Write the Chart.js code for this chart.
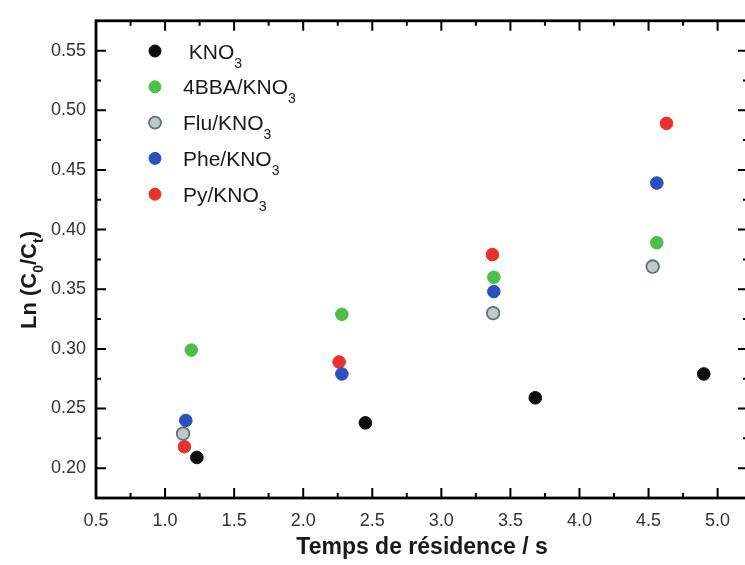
<!DOCTYPE html>
<html>
<head>
<meta charset="utf-8">
<script src="https://cdn.jsdelivr.net/npm/chart.js@4.4.1/dist/chart.umd.min.js"></script>
<style>
  html, body { margin: 0; padding: 0; background: #fff; overflow: hidden; }
  #wrap { width: 760px; height: 565px; }
</style>
</head>
<body>
<div id="wrap"><canvas id="chart" width="760" height="565"></canvas></div>
<script>
// values (x = residence time in s, y = Ln(C0/Ct))
const kno3_x = [1.23, 2.45, 3.68, 4.90];
const kno3_y = [0.209, 0.238, 0.259, 0.279];
const bba_x = [1.19, 2.28, 3.38, 4.56];
const bba_y = [0.299, 0.329, 0.360, 0.389];
const flu_x = [1.13, 3.375, 4.53];
const flu_y = [0.229, 0.330, 0.369];
const phe_x = [1.15, 2.28, 3.38, 4.56];
const phe_y = [0.240, 0.279, 0.348, 0.439];
const py_x = [1.14, 2.26, 3.37, 4.63];
const py_y = [0.218, 0.289, 0.379, 0.489];

// legend names (the "3" is drawn as subscript)
const series_names = [" KNO", "4BBA/KNO", "Flu/KNO", "Phe/KNO", "Py/KNO"];

// tick labels
const x_ticks = [0.5, 1.0, 1.5, 2.0, 2.5, 3.0, 3.5, 4.0, 4.5, 5.0];
const y_ticks = [0.20, 0.25, 0.30, 0.35, 0.40, 0.45, 0.50, 0.55];

const FONT = "'Liberation Sans', Arial, sans-serif";

function toPoints(xs, ys) {
  return xs.map((v, i) => ({ x: v, y: ys[i] }));
}

// text with subscript parts, parts = [[text, isSub], ...]
function drawParts(ctx, parts, x, y, bigFont, smallFont, drop) {
  let cx = x;
  parts.forEach(([t, sub]) => {
    ctx.font = sub ? smallFont : bigFont;
    ctx.fillText(t, cx, sub ? y + drop : y);
    cx += ctx.measureText(t).width;
  });
  return cx - x;
}
function measureParts(ctx, parts, bigFont, smallFont) {
  let w = 0;
  parts.forEach(([t, sub]) => {
    ctx.font = sub ? smallFont : bigFont;
    w += ctx.measureText(t).width;
  });
  return w;
}

// Box frame with inward major + minor ticks on all sides
const frameTicks = {
  id: "frameTicks",
  beforeDatasetsDraw(chart) {
    const { ctx, chartArea: a, scales } = chart;
    const x = scales.x, y = scales.y;
    ctx.save();
    ctx.strokeStyle = "#000";
    ctx.lineWidth = 2.8;
    ctx.strokeRect(a.left, a.top, a.right - a.left, a.bottom - a.top);
    ctx.lineWidth = 2;

    const xMinor = x_ticks.map((v) => v + 0.25);
    const yMinor = y_ticks.map((v) => v + 0.025);
    ctx.beginPath();
    x_ticks.forEach((v) => {
      const px = x.getPixelForValue(v);
      ctx.moveTo(px, a.bottom); ctx.lineTo(px, a.bottom - 10);
      ctx.moveTo(px, a.top); ctx.lineTo(px, a.top + 10);
    });
    xMinor.forEach((v) => {
      if (v >= x.max) return;
      const px = x.getPixelForValue(v);
      ctx.moveTo(px, a.bottom); ctx.lineTo(px, a.bottom - 5);
      ctx.moveTo(px, a.top); ctx.lineTo(px, a.top + 5);
    });
    y_ticks.forEach((v) => {
      const py = y.getPixelForValue(v);
      ctx.moveTo(a.left, py); ctx.lineTo(a.left + 10, py);
      ctx.moveTo(a.right, py); ctx.lineTo(a.right - 10, py);
    });
    yMinor.forEach((v) => {
      if (v >= y.max) return;
      const py = y.getPixelForValue(v);
      ctx.moveTo(a.left, py); ctx.lineTo(a.left + 5, py);
      ctx.moveTo(a.right, py); ctx.lineTo(a.right - 5, py);
    });
    ctx.stroke();
    ctx.restore();
  },
  afterDraw(chart) {
    const ctx = chart.ctx;
    ctx.save();
    ctx.fillStyle = "#1a1a1a";
    ctx.textBaseline = "alphabetic";

    // y axis title, rotated, with subscripts
    const titleParts = [["Ln (C", 0], ["0", 1], ["/C", 0], ["t", 1], [")", 0]];
    const bigB = "bold 22px " + FONT, smallB = "bold 14px " + FONT;
    const tw = measureParts(ctx, titleParts, bigB, smallB);
    ctx.translate(36, 280);
    ctx.rotate(-Math.PI / 2);
    drawParts(ctx, titleParts, -tw / 2, 0, bigB, smallB, 7);
    ctx.restore();

    // legend
    ctx.save();
    const ds = chart.data.datasets;
    const big = "21px " + FONT, small = "14px " + FONT;
    series_names.forEach((name, i) => {
      const my = 51 + i * 35.8;
      ctx.beginPath();
      ctx.arc(155, my, 6, 0, Math.PI * 2);
      ctx.fillStyle = ds[i].backgroundColor;
      ctx.fill();
      ctx.lineWidth = ds[i].borderWidth;
      ctx.strokeStyle = ds[i].borderColor;
      ctx.stroke();
      ctx.fillStyle = "#1a1a1a";
      drawParts(ctx, [[name, 0], ["3", 1]], 183, my + 7.5, big, small, 9);
    });
    ctx.restore();
  },
};

const datasets = [
  { label: "KNO3", data: toPoints(kno3_x, kno3_y), backgroundColor: "#0d0d0d", borderColor: "#0d0d0d", borderWidth: 1, order: 5 },
  { label: "4BBA/KNO3", data: toPoints(bba_x, bba_y), backgroundColor: "#4dbf48", borderColor: "#4dbf48", borderWidth: 1, order: 4 },
  { label: "Flu/KNO3", data: toPoints(flu_x, flu_y), backgroundColor: "#c6c6c6", borderColor: "#5a7676", borderWidth: 1.8, order: 1 },
  { label: "Phe/KNO3", data: toPoints(phe_x, phe_y), backgroundColor: "#2b4fc0", borderColor: "#2b4fc0", borderWidth: 1, order: 2 },
  { label: "Py/KNO3", data: toPoints(py_x, py_y), backgroundColor: "#e5322a", borderColor: "#e5322a", borderWidth: 1, order: 3 },
];

const config = {
  type: "scatter",
  data: { datasets: datasets },
  options: {
    responsive: false,
    animation: false,
    devicePixelRatio: 1,
    layout: { padding: { top: 14, right: 12, left: 0, bottom: 0 } },
    elements: { point: { radius: 6.3, hoverRadius: 6.3 } },
    plugins: { legend: { display: false }, tooltip: { enabled: false } },
    scales: {
      x: {
        type: "linear",
        min: 0.5,
        max: 5.22,
        grid: { display: false, drawTicks: false },
        border: { display: false },
        afterBuildTicks: (s) => { s.ticks = x_ticks.map((v) => ({ value: v })); },
        afterFit: (s) => { s.height = 67; },
        ticks: {
          padding: 12,
          color: "#333",
          font: { family: FONT, size: 18 },
          callback: (v) => Number(v).toFixed(1),
        },
        title: {
          display: true,
          text: "Temps de résidence / s",
          color: "#1a1a1a",
          font: { family: FONT, size: 23, weight: "bold" },
          padding: { top: 0, bottom: 4 },
        },
      },
      y: {
        type: "linear",
        min: 0.175,
        max: 0.575,
        grid: { display: false, drawTicks: false },
        border: { display: false },
        afterBuildTicks: (s) => { s.ticks = y_ticks.map((v) => ({ value: v })); },
        afterFit: (s) => { s.width = 96; },
        ticks: {
          padding: 10,
          color: "#333",
          font: { family: FONT, size: 18 },
          callback: (v) => Number(v).toFixed(2),
        },
      },
    },
  },
  plugins: [frameTicks],
};

new Chart(document.getElementById("chart"), config);
</script>
</body>
</html>
